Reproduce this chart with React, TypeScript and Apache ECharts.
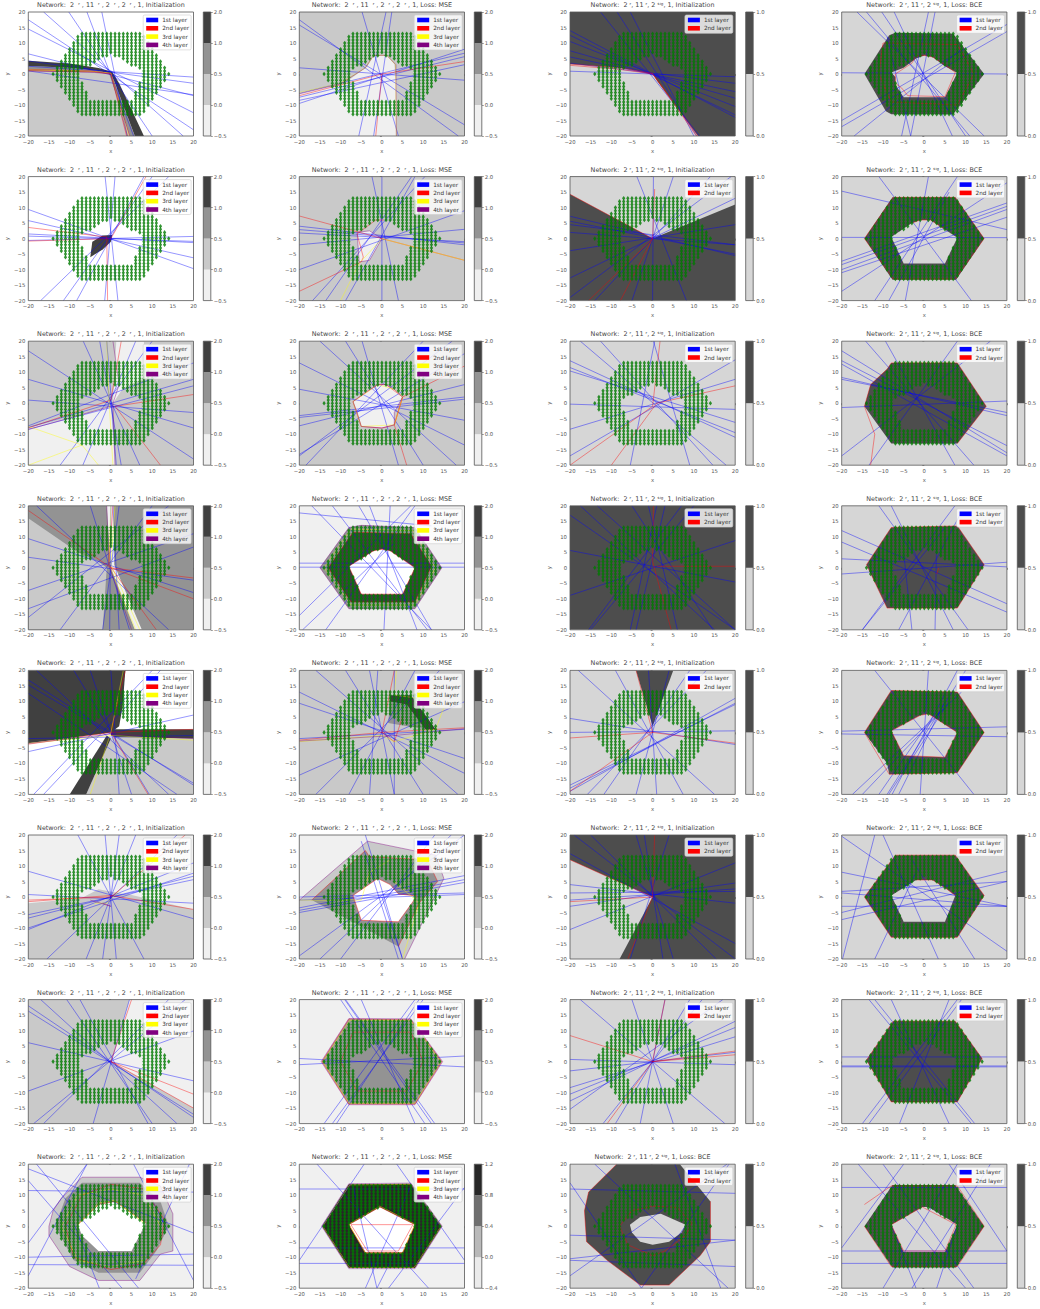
import React, { useEffect, useRef } from "react";
import * as echarts from "echarts";

type Poly = number[];
const T4I = "Network:  2  ʳ , 11  ʳ , 2  ʳ , 2  ʳ , 1, Initialization";
const T4M = "Network:  2  ʳ , 11  ʳ , 2  ʳ , 2  ʳ , 1, Loss: MSE";
const T3I = "Network:  2 ʳ, 11 ʳ, 2 ˢⁱᵍ, 1, Initialization";
const T3B = "Network:  2 ʳ, 11 ʳ, 2 ˢⁱᵍ, 1, Loss: BCE";
const titles = [
  T4I, T4M, T3I, T3B, T4I, T4M, T3I, T3B, T4I, T4M, T3I, T3B, T4I, T4M, T3I, T3B,
  T4I, T4M, T3I, T3B, T4I, T4M, T3I, T3B, T4I, T4M, T3I, T3B, T4I, T4M, T3B, T3B,
];
const xTicks = (v: number) => (v < 0 ? "\u2212" + Math.abs(v) : String(v));
const layerNames = ["1st layer", "2nd layer", "3rd layer", "4th layer"];
const layerColors = ["#0000ff", "#ff0000", "#ffff00", "#800080"];

const cbLabels4 = ["\u22120.5", "0.0", "0.5", "1.0", "2.0"];
const cbLabels2 = ["0.0", "0.5", "1.0"];
const cbLabelsLast = ["\u22120.4", "0.0", "0.4", "0.8", "1.2"];
const cbColors4 = ["#f0f0f0", "#c9c9c9", "#939393", "#404040"];
const cbColors2 = ["#d6d6d6", "#4d4d4d"];
const cbColorsLast = ["#ebebeb", "#b9b9b9", "#6f6f6f", "#272727"];

// palette index used by the regions lists
const fills = ["#ffffff", "#f0f0f0", "#c9c9c9", "#939393", "#404040", "#d6d6d6", "#4d4d4d", "#272727"];
const W = 0, F = 1, C = 2, M = 3, D = 4, L = 5, G = 6, K = 7;
const B = [-20, -20, 20, -20, 20, 20, -20, 20];

const hexFull: Poly = [-14.5, 0, -7.7, 13.3, 7.5, 13.3, 14.5, 0, 7.7, -13.3, -7.7, -13.3];
const penta: Poly = [-0.5, 6.2, 1, 6.2, 8, 0.5, 5, -8.3, -5, -8.3, -8, 0.5];

const dotRows: [number, number[]][] = [
  [13, [-7,-6,-5,-4,-3,-2,-1,0,1,2,3,4,5,6,7]],
  [12, [-8,-7,-6,-5,-4,-3,-2,-1,0,1,2,3,4,5,6,7,8]],
  [11, [-8,-7,-6,-5,-4,-3,-2,-1,0,1,2,3,4,5,6,7,8]],
  [10, [-9,-8,-7,-6,-5,-4,-3,-2,-1,0,1,2,3,4,5,6,7,8,9]],
  [9, [-9,-8,-7,-6,-5,-4,-3,-2,-1,0,1,2,3,4,5,6,7,8,9]],
  [8, [-10,-9,-8,-7,-6,-5,-4,-3,-2,-1,0,1,2,3,4,5,6,7,8,9,10]],
  [7, [-10,-9,-8,-7,-6,-5,-4,-3,-2,-1,0,1,2,3,4,5,6,7,8,9,10]],
  [6, [-11,-10,-9,-8,-7,-6,-5,-4,-3,-2,-1,1,2,3,4,5,6,7,8,9,10,11]],
  [5, [-11,-10,-9,-8,-7,-6,-5,-4,-3,3,4,5,6,7,8,9,10,11]],
  [4, [-12,-11,-10,-9,-8,-7,-6,-5,-4,4,5,6,7,8,9,10,11,12]],
  [3, [-12,-11,-10,-9,-8,-7,-6,-5,5,6,7,8,9,10,11,12]],
  [2, [-13,-12,-11,-10,-9,-8,-7,7,8,9,10,11,12,13]],
  [1, [-13,-12,-11,-10,-9,-8,8,9,10,11,12,13]],
  [0, [-14,-13,-12,-11,-10,-9,-8,8,9,10,11,12,13,14]],
  [-1, [-13,-12,-11,-10,-9,-8,8,9,10,11,12,13]],
  [-2, [-13,-12,-11,-10,-9,-8,8,9,10,11,12,13]],
  [-3, [-12,-11,-10,-9,-8,-7,7,8,9,10,11,12]],
  [-4, [-12,-11,-10,-9,-8,-7,7,8,9,10,11,12]],
  [-5, [-11,-10,-9,-8,-7,7,8,9,10,11]],
  [-6, [-11,-10,-9,-8,-7,-6,6,7,8,9,10,11]],
  [-7, [-10,-9,-8,-7,-6,6,7,8,9,10]],
  [-8, [-10,-9,-8,-7,-6,6,7,8,9,10]],
  [-9, [-9,-8,-7,-6,-5,-4,-3,-2,-1,0,1,2,3,4,5,6,7,8,9]],
  [-10, [-9,-8,-7,-6,-5,-4,-3,-2,-1,0,1,2,3,4,5,6,7,8,9]],
  [-11, [-8,-7,-6,-5,-4,-3,-2,-1,0,1,2,3,4,5,6,7,8]],
  [-12, [-8,-7,-6,-5,-4,-3,-2,-1,0,1,2,3,4,5,6,7,8]],
  [-13, [-7,-6,-5,-4,-3,-2,-1,0,1,2,3,4,5,6,7]],
];

// filled contour bands, per panel, painted in order: [palette index, flat x,y vertices]
const regions: [number, Poly][][] = [
  /* r1c1 */ [[W, B], [C, [-20,-20,-20,0.9,-5,0.6,-0.5,0.2,4.5,-20]], [M, [-20,0.9,-20,2.6,-10,2,-3,1,0,0.2,1,-3,5.8,-20,4.5,-20,-0.5,0.2,-5,0.6]], [D, [-20,2.6,-20,4.3,-10,3.4,-3,1.9,0.3,0.7,2,-3,8,-20,5.8,-20,1,-3,0,0.2,-3,1,-10,2]]],
  /* r1c2 */ [[C, B], [F, [-20,-20,-20,-6,-9,-3,-3.5,2.5,-2,6,1.2,6,3,3.2,3.5,-3,3.5,-20]]],
  /* r1c3 */ [[G, B], [L, [-20,-20,-20,3.2,-8,2,0,0.2,1,-2,11,-20]]],
  /* r1c4 */ [[L, B], [G, [-14.5,0,-8.5,12.5,-7,13.3,7,13,14.5,0,7,-13,-8,-13,-9.3,-12]], [L, [0,6,2,5.5,5,2.5,8,0.3,5,-7.5,-5,-7.5,-7,-3.5,-7,-1,-8,0.5,-5,2,-2,5]]],
  /* r2c1 */ [[W, B], [D, [-5,-6,-4.5,-1,-2,1,0.3,1.2,0,-1,-2,-3.5]]],
  /* r2c2 */ [[C, B], [F, [-6,2,-5.5,-7.5,-3,-7,0,0,-3,2.5]]],
  /* r2c3 */ [[G, B], [L, [-20,14.3,0,0,20,11,20,20,-20,20]]],
  /* r2c4 */ [[L, B], [G, hexFull], [L, [-1,6,1.5,6,8,0.3,5,-8,-5,-8,-8,0.5,-3,5]]],
  /* r3c1 */ [[C, B], [F, [1.3,20,8,20,8,8,3,5,0.5,0]], [F, [-20,-20,-20,-8,-5,-3,0,-1,1,-20]]],
  /* r3c2 */ [[C, B], [F, [-1,6,1,6,3,4.5,5,2,3,-3,3,-7,0,-8,-5,-7.5,-6,-3,-7,0.5,-4,3.5]]],
  /* r3c3 */ [[L, B]],
  /* r3c4 */ [[L, B], [G, [-14.5,-1,-13,6,-9,11,-8,13,8,13,15,-1,8,-13,-8,-13]]],
  /* r4c1 */ [[M, B], [C, [-20,-20,-20,16,-8,5,-3,2,-1,0,-2,-20]], [F, [-1,20,0.7,20,0.8,1,7.5,-20,5.8,-20,0,0]]],
  /* r4c2 */ [[F, B], [M, [-15,0,-8,13,-5,13.7,8,13,14.5,0,8,-13.2,-8,-13.2]], [D, [-13,0,-7,11.5,7,11,12,0.5,8,-11,-7.5,-11]], [W, [0,6,2,5.5,8,0,5,-8.5,-5,-8.5,-8,0.5,-2,5.5]]],
  /* r4c3 */ [[G, B]],
  /* r4c4 */ [[L, B], [G, [-14,1,-8,13,8,13.5,14.5,1,8,-13,-9,-13]]],
  /* r5c1 */ [[W, B], [C, [1,-1.5,20,-2,20,-20,-6,-20,0,-2]], [D, [-20,20,3.5,20,2.8,8,2,2,0,0,-20,-3.5]], [D, [0,1,20,1,20,-2,1,-1.5,0,-1]], [D, [-1,-1,-10,-20,-6,-20,0,-2]]],
  /* r5c2 */ [[C, B], [M, [2,10,6,9,10.5,1,1.5,3]], [D, [2,12,7,12,13,1,10.5,1,6,9,2,10]]],
  /* r5c3 */ [[L, B], [G, [-4,20,5,20,0,2]]],
  /* r5c4 */ [[L, B], [G, [-14.5,0,-8,13.5,8,13,14.5,0,8,-13,-8.5,-13.5,-9,-10]], [L, [-1,5.5,1,6,8,0,5,-8,-5,-7.5,-8,0.5]]],
  /* r6c1 */ [[F, B], [C, [-20,-2,0,0.5,4,1,20,-4,20,-20,-20,-20]], [C, [-8,-1,-3,2.5,3,1,0,0]]],
  /* r6c2 */ [[F, B], [C, [-20,-20,-20,-1,-3.5,18,13,13.5,15,6,5.5,-20]], [M, [-17,-1,-4,15,-3,13,11,12,13.5,5,9,-2,4,-16]], [W, [-7,0.5,-1,6,2,4,4,1,8.5,0.3,4,-8,-5,-7.5]]],
  /* r6c3 */ [[G, B], [L, [-20,12,0,0,-8,-20,-20,-20]]],
  /* r6c4 */ [[L, B], [G, [-14.5,0,-7,13.5,7.5,13.5,14.5,0.5,8,-13,-8,-13]], [L, [-2,5.5,2,5.5,5,3,7.5,0.5,5,-8,-5,-8,-8,0.5]]],
  /* r7c1 */ [[C, B], [F, [4.5,20,20,20,20,-15,0,0]]],
  /* r7c2 */ [[F, B], [M, [-14.5,0,-8,13.7,7,13.5,14.5,0,8,-13.7,-8,-13.7]]],
  /* r7c3 */ [[L, B]],
  /* r7c4 */ [[L, B], [G, [-14,0.5,-7.5,13,7.5,13,14,1,8,-13,-8,-13]]],
  /* r8c1 */ [[F, B], [C, [-15,0,-14,5,-12,9,-7,15.8,7,15.8,12,13,15,4,15,-8,12,-9,7,-17.5,-3,-17.5,-10,-13,-15,-3]], [M, [-13.5,0,-11,9,-7,14,7,14,12,8,14,0,11,-8,7,-15,-3,-15,-9,-11]], [W, [-8,0.5,-3,7,1,8,8.5,1,5,-8,-3,-8,-7,-3]]],
  /* r8c2 */ [[F, B], [K, [-14.5,0,-8,13.5,7,13.7,14.5,0,8,-13.5,-8,-13.5]], [W, [-0.5,6.2,8,0.5,5,-8.5,-4,-8.5,-8,0.5]]],
  /* r8c3 */ [[L, B], [G, [-16.5,5,-15.5,11,-8.7,20,6.6,20,14,8,14,-5,11.5,-9.5,4,-19,-3,-19,-11,-11,-16,-5]], [L, [-5.5,0.5,-3,3,2,4,8,0.5,7,-2,4,-5,0,-6,-3,-5,-5,-2]]],
  /* r8c4 */ [[L, B], [G, hexFull], [L, penta]],
];

const blue: Poly[][] = [
  /* r1c1 */ [[-20,17.5,20,-18],[-20,14.5,20,-12.5],[-20,6.5,20,-7],[-20,4.2,20,-3],[-20,2.5,20,-1],[-20,1,20,-6.7],[-16.3,20,17.5,-20],[-10.2,20,10,-20],[-5.8,20,5.5,-20],[-2.2,20,4,-20]],
  /* r1c2 */ [[-20,17.5,18.5,-20],[-20,15.8,20,-16.4],[-20,2,20,-2],[-20,-6.2,20,6.7],[-20,-7.5,20,5.6],[-20,-8.5,20,3],[-20,-9.5,20,8],[-4.8,20,4,-20],[1,20,-5.6,-20],[2.4,20,-2,-20]],
  /* r1c3 */ [[-20,14,20,-14],[-20,12.5,20,-13.2],[-20,10.5,20,-10.5],[-20,7.5,20,-7.8],[-20,5.5,20,-5.7],[-20,3.5,20,-3],[-20,0.9,20,-0.9],[-12.6,20,11.4,-20],[-8.6,20,10.7,-20],[-5.4,20,10,-20]],
  /* r1c4 */ [[-20,0.4,20,0],[-20,-15,20,16],[-20,-17,20,13.7],[-16.3,20,14.5,-20],[-14,20,11,-20],[-10.3,20,10,-20],[-7.3,20,6.8,-20],[1,20,-5.5,-20],[2.6,20,-3.3,-20],[-9,12,-3.3,-20],[-17,-20,9,8]],
  /* r2c1 */ [[-20,9.4,20,-9.7],[-20,5.8,20,-6.2],[-20,1.5,20,-1.3],[-20,0.8,20,-0.9],[-20,-0.6,20,0.7],[-17,-20,14,20],[-11.5,-20,10,20],[-8.3,-20,8,20],[-1.4,20,1.7,-20],[-1.5,-20,1,20]],
  /* r2c2 */ [[-20,4,20,-2],[-20,2.9,20,-1.4],[-20,1.8,20,-1],[-20,-10,20,9],[-16.8,-20,10.4,20],[-13.6,-20,7.2,20],[-8.8,-20,8,20],[0,-20,0,20],[4,-20,-2.4,20],[-20,-2,20,3]],
  /* r2c3 */ [[-20,7.2,20,-5.5],[-20,5.6,20,-5],[-20,4.5,20,-2],[-20,-3.9,20,4.5],[-20,-12.7,20,13],[-20,-19,19,20],[-3.8,20,8.2,-20],[0.2,20,0,-20],[-14,-20,14,20],[-20,2,20,-2],[-5,-20,5,20]],
  /* r2c4 */ [[-20,15.3,20,2.9],[-20,0.4,20,0.3],[-20,-7.3,20,11.5],[-20,-8.4,20,10.4],[-20,-10,20,9.4],[-20,-11,20,6.9],[-20,-17,20,18],[-11,20,11.4,-20],[-4.6,-20,1,20],[-12,-20,8,20],[-8.6,-20,6,15]],
  /* r3c1 */ [[-20,16.9,20,-18],[-20,7.7,20,-8],[-20,-7.3,20,13],[-20,-7.8,20,7.7],[-20,-8.4,20,5.6],[-6.7,20,7,-20],[-2.7,20,2.5,-20],[-12.3,-20,10,20],[-6.8,-20,6,20],[1.3,-20,-1,20],[-20,1,20,-3]],
  /* r3c2 */ [[-20,13,20,-13.5],[-20,4.5,20,-5.5],[-20,-4,20,2],[-20,-4.6,20,1.3],[-20,-7.3,20,6],[-20,-16.5,20,16],[-20,-17,17,20],[-15,20,18,-20],[-8.8,20,10,-20],[-4.8,20,4,-20],[-18.4,-20,10,20]],
  /* r3c3 */ [[-17.5,20,17.8,-20],[-12.6,20,14.6,-20],[-20,13.7,20,-11],[-20,11.5,20,-9.5],[-20,10.4,20,-6.2],[-20,-0.3,20,-2],[-20,-8.4,20,7.7],[-20,-17,20,14],[-5.4,-20,0.5,20],[0.2,20,9,-20]],
  /* r3c4 */ [[-20,16.9,20,-16],[-20,13.7,20,-13.7],[-20,12.6,20,-17],[-20,8.3,20,-4],[-20,7.7,20,-3],[-20,-1.4,20,0.7],[-14.2,20,12,-20],[-9.4,20,7.4,-20],[-20,-17,16,20],[-13.4,-20,8,20]],
  /* r4c1 */ [[-20,9.4,20,-8],[-20,3.4,20,-4],[-20,-7.3,20,11],[-20,-13.2,20,6.7],[-20,-16,14,20],[-18,20,14,-20],[-5,20,4.5,-20],[-12.3,-20,10,20],[-0.3,-20,0,20],[2,-20,0.5,20],[-2,-20,2,20]],
  /* r4c2 */ [[-20,1.5,20,1.5],[-20,0.2,20,0.2],[-20,17.7,12,13.5],[-17,20,12,-20],[-12,20,11,-20],[-5.6,20,12,-20],[-3,20,8.5,-20],[-20,-15.4,7,20],[-19.2,-20,3,8],[-13.6,-20,8,20],[0.5,-20,2,20]],
  /* r4c3 */ [[-20,17,20,-20],[-20,5.6,20,-4.6],[-20,-8.9,20,8.8],[-17.5,20,15,-20],[-13.4,20,20,-20],[-15,-20,10,20],[-5.4,-20,1,20],[-15.5,-20,7,20],[-5,20,14.6,-20],[-1,20,6,-20],[3,20,-4,-20]],
  /* r4c4 */ [[-20,12,20,-11.6],[-20,8.3,20,-14.3],[-20,2.9,20,0.3],[-20,-2,20,1.8],[-11,20,10.6,-20],[-8,20,7,-20],[7.4,20,-15,-20],[9,18,-6.2,-20],[3,10,2.6,-20],[-15,-20,5,13],[-5,5,-3,-20]],
  /* r5c1 */ [[-20,16.9,20,-17],[-20,15.3,20,-16.4],[-20,12.6,16,-20],[-20,-6.2,20,5.6],[-18,20,14,-20],[-9,20,9.3,-20],[-16.3,-20,12,20],[-18.7,-20,10,20],[-5,20,5,-20],[-20,-2,20,-1],[0,20,2,-20]],
  /* r5c2 */ [[-20,13,20,-13.2],[-20,9.4,20,-8.4],[-20,-13.8,20,9.9],[-16,-20,14,20],[-8,-20,8,20],[-16,20,18.4,-20],[-8.8,20,10,-20],[-3,20,3,-20],[-20,-2,20,1],[-1,20,-3,-20],[3,-20,3,20]],
  /* r5c3 */ [[-20,4.5,20,-3.9],[-20,-19,20,11],[-20,-18,20,9.4],[-20,-17,20,9],[-15.8,-20,13,20],[-11.8,-20,9,20],[-18,20,15,-20],[-9,20,7.4,-20],[-1,20,1,-20],[-4,-20,4,20],[-20,0,20,0.5]],
  /* r5c4 */ [[-20,0.4,20,1.8],[-20,-0.5,20,-1.4],[-17.4,-20,9,13],[-8.6,-20,6,10],[-7.8,-20,8,20],[-6.2,-20,5,10],[-12,20,12,-20],[1,20,-1,-20],[-15,-20,5,8],[-11,-20,2,5],[-9,-20,10,20]],
  /* r6c1 */ [[-20,8.3,20,-7],[-20,0.8,20,-2],[-20,-5.7,20,5.6],[-20,-6.8,20,6.7],[-20,-10,20,7.7],[-20,-10.5,20,11],[-1.4,20,1.3,-20],[2,20,-2,-20],[-15.5,-20,16,20],[-6,-20,6,20],[-8,20,8,-20]],
  /* r6c2 */ [[-20,-3.5,20,6.9],[-20,-4.3,20,5.6],[-20,-5,20,4.7],[-20,-19,20,20],[-15,-20,16.8,20],[-10,-20,12.8,20],[-4,20,5,-20],[-20,0,20,1.3],[-20,-1,20,0.8],[5,-20,0,0],[4,-20,-5,18]],
  /* r6c3 */ [[-20,4,20,-2],[-20,1.3,20,1.8],[-20,-1,20,2.6],[-20,-3,20,4.5],[-20,-10.5,20,11],[-19,20,20,-20],[-15,20,15.4,-20],[2.5,-20,-2,20],[5,-20,-4,20],[-5.4,-20,4,20],[-20,14,20,-15]],
  /* r6c4 */ [[-20,19.6,20,-17.5],[-20,8,20,-3],[-20,1.8,20,5],[-20,1.3,20,-3],[-20,-5,20,8.3],[-20,-7.3,20,5],[-19.8,-20,-12,20],[-12,-20,-2,8],[-10,20,3.4,-20],[-3,12,12.2,-20],[-20,-3,20,-3]],
  /* r7c1 */ [[-20,18,20,-18],[-20,16.3,20,-17],[-20,6.1,20,-6.2],[-20,-9.5,20,9.9],[-17,20,16,-20],[-10.7,20,10,-20],[-7.5,20,9,-20],[-16.3,-20,14,20],[-4.3,-20,4.5,20],[-18.7,-20,18,20]],
  /* r7c2 */ [[-20,1,20,-1.7],[-20,-1,20,1.8],[-8.8,20,12.8,-20],[-10,20,10.4,-20],[-9,20,12,-20],[-11,-20,9,20],[-12,-20,10,20],[-14,-20,8,20],[-5,20,8,-20]],
  /* r7c3 */ [[-20,-8.4,20,8],[-20,-10.5,20,11],[-20,-12.7,20,13],[-20,-15.4,17,20],[-17.5,20,17.5,-20],[-20,0.7,20,-1],[-5,20,5,-20],[-12,-20,12,20],[-3,-20,3,20],[9,20,-9,-20],[-20,-3,20,3]],
  /* r7c4 */ [[-20,1.5,20,1.5],[-20,-1.4,20,-1.4],[-20,-1.7,20,-1.7],[-13.4,20,11.4,-20],[-12,20,12.2,-20],[-15,-20,8,20],[-13.4,-20,9,20],[-8,20,6,-20],[-6,-20,6,20]],
  /* r8c1 */ [[-20,18.5,20,-2.2],[-20,14.7,2.7,-20],[-20,11.5,20,11],[-20,-5.4,-5.8,20],[-20,-10,20,-9],[-20,-12.4,20,-12.6],[-18,20,6.7,-20],[5.5,20,20,-17.5],[19,20,6,-17],[-2.8,-20,-9,1],[-20,-16,-5.8,20]],
  /* r8c2 */ [[-20,12,20,12],[-20,-7,20,-7],[-20,-12,20,-12],[-15.7,20,11.3,-20],[-20,-11,-4.3,20],[3.6,20,20,-11],[20,12.5,1.6,-20],[7,13,-4,-20],[-1.2,-20,3,-9],[-7,13,-1.2,-20]],
  /* r8c3 */ [[-20,12,20,10.6],[-20,14,-2.7,-20],[-20,-2.9,20,-4.5],[-20,-11,20,-13],[-20,-16,18,20],[-14,20,18.3,-20],[5.4,20,16.5,-20],[-20,-10.5,20,-4.5],[18.5,20,-2.7,-20]],
  /* r8c4 */ [[-20,12.5,20,12.5],[-20,-8,20,-8],[-20,-12,20,-12],[-16,20,10,-20],[-10,20,12,-20],[-20,-7,-5,20],[6,20,20,-8],[16,20,-3,-20],[-10,-20,8,20],[-2,-20,-8,0.5],[8,0.5,3,-20]],
];

const red: Poly[][] = [
  /* r1c1 */ [[-20,1.5,-5,1,0,0.2,4.5,-20],[-20,1.1,-4,0.7,0,0,3.8,-20]],
  /* r1c2 */ [[-20,-7,0,0,20,4],[-1.5,-20,0,0]],
  /* r1c3 */ [[-20,2.8,-8,1.5,0,0,11,-20],[-20,3.2,-8,2,0,0.2,10.6,-20]],
  /* r1c4 */ [[0,6,2,5.5,5,3,7.5,0.5,5,-7.3,-4,-7,-5.5,-4.5,-7,-3,-7,0,-3,3.5,-2,5.8,0,6],[-10,10,8,9.5,12,0,8,-10,-8,-9,-11,0,-10,10]],
  /* r2c1 */ [[-20,3.6,-1,0.5,-0.8,-20],[-20,-0.8,0,0,8.5,20]],
  /* r2c2 */ [[-20,7.3,-4,1.5,0,0,20,-7],[-20,-17,-5,-7.5,-4.5,-6,-6,1.5,-3.5,4,-1.5,6,0.5,6]],
  /* r2c3 */ [[-20,14.3,0,0,0.5,16],[-15.5,-20,0,0,-7.8,-20]],
  /* r2c4 */ [[-7.5,13.3,7.5,13.3,14.5,0,7.5,-13,-7.5,-13,-14.5,0,-7.5,13.3],[-3,5,-1,6,1.5,6,5,3]],
  /* r3c1 */ [[2.5,20,0,1,-20,-8],[12,-20,1,-1,20,2.8]],
  /* r3c2 */ [[6,-20,3,-7,5,2,20,12],[-1,6,1,6,5,2,3,-7,0,-8,-5,-7.5,-7,0.5,-1,6]],
  /* r3c3 */ [[-20,-20,0,-1,1.8,20],[-10,-20,1,0,20,5.6]],
  /* r3c4 */ [[-14.5,-1,-13,6,-9,11,-8,13,8,13,15,-1,8,-13],[-14.5,-1,-12,-10,-13,-20]],
  /* r4c1 */ [[-20,18.5,0,0,20,-3.3],[0.5,20,-0.5,1,11,-20],[0,0,20,-10]],
  /* r4c2 */ [[0,6,2,5.5,8,0,5,-8.5,-5,-8.5,-8,0.5,-2,5.5,0,6],[-13,0,-7,11.5,7,11,12,0.5,8,-11,-7.5,-11,-13,0]],
  /* r4c3 */ [[0.2,20,0,2,4.5,-20],[1,0.5,20,0.5]],
  /* r4c4 */ [[-14,1,-8,13,8,13.5,14.5,1,8,-13,-9,-13,-14,1],[3,-2,3.5,0]],
  /* r5c1 */ [[-20,-3.8,0,0,20,1],[3.5,20,0,0,9,-20]],
  /* r5c2 */ [[-20,-2.5,0,0,20,1.5],[3,20,0,0,3,-3,5,5]],
  /* r5c3 */ [[-20,-1.8,0,0,20,-3.5],[-20,-19,0,0,-4,20]],
  /* r5c4 */ [[-14.5,0,-8,13.5,8,13,14.5,0,8,-13,-8.5,-13.5,-14.5,0],[-1,5.5,1,6,8,0,5,-8,-5,-7.5,-8,0.5,-1,5.5]],
  /* r6c1 */ [[-20,-1.5,0,0.5,20,-4],[-20,-1,0,0,18,20]],
  /* r6c2 */ [[-7,0.5,-1,6,2,4,4,1,8.5,0.3,4,-8,-5,-7.5,-7,0.5],[-17,-1,-4,15,-3,13,11,12,13.5,5,9,-2,4,-16]],
  /* r6c3 */ [[-20,12,0,0,-6,-20],[-20,-1.5,0,0,0.5,20]],
  /* r6c4 */ [[-14.5,0,-7,13.5,7.5,13.5,14.5,0.5,8,-13,-8,-13,-14.5,0],[-2,5.5,2,5.5,5,3,7.5,0.5]],
  /* r7c1 */ [[5,20,0,0,20,-10.5],[0,0,20,-15]],
  /* r7c2 */ [[-10,0,-7,9.5,7,9.5,10,0,6,-9.5,-6,-9.5,-10,0],[-14.5,0,-8,13.7,7,13.5,14.5,0,8,-13.7,-8,-13.7,-14.5,0]],
  /* r7c3 */ [[-20,8.4,0,0,20,3.4],[-11,-20,0,0,3,20],[0,0,20,2.2]],
  /* r7c4 */ [[-14,0.5,-7.5,13,7.5,13,14,1,8,-13,-8,-13,-14,0.5]],
  /* r8c1 */ [[-11,0,-7,10,0,13.5,8,12,13,2,12,-6,8,-12,0,-14,-9,-10,-11,0],[-8,0.5,-3,7,1,8,8.5,1]],
  /* r8c2 */ [[-7.5,0.5,7.5,0.5,4,-8,-3.5,-8,-7.5,0.5],[-0.5,6.2,8,0.5,5,-8.5,-4,-8.5,-8,0.5,-0.5,6.2]],
  /* r8c3 */ [[-8,0,-5,5,0,6.5,6,6,9.5,1,8,-3,3,-8,0,-9.5,-6,-6,-8,0],[-16.5,5,-15.5,11,-8.7,20],[14,8,14,-5,11.5,-9.5,4,-19,-3,-19,-11,-11,-16,-5,-16.5,5]],
  /* r8c4 */ [[-0.5,6.2,7.7,0.5,5,-8,-5,-8,-8,0.5,-0.5,6.2],[-14.5,7,-8,13,8,13,14.5,0,8,-13,-8,-13,-14.5,0]],
];

const yellow: Poly[][] = [
  /* r1c1 */ [[-20,1.3,-4,0.9,0,0.3,4.2,-20]],
  /* r1c2 */ [[3.5,-20,3.3,3,1.2,6,-2,6,-4,2,-10,-3,-20,-6]],
  [], [],
  /* r2c1 */ [],
  /* r2c2 */ [[-10,-20,-5.5,-8,0,0,20,-7]],
  [], [],
  /* r3c1 */ [[-1,20,-0.5,2,0.5,-20],[-20,-20,-7,-13.5,-3,-20],[-7,-13.5,-20,-7.5]],
  /* r3c2 */ [[-1,6,3,4.5,5,2,3,-7,-5,-7.5,-7,0.5,-1,6]],
  [], [],
  /* r4c1 */ [[1,20,0,1,7,-20],[0,20,-0.5,1,6,-20]],
  /* r4c2 */ [[-14,0,-7.5,12.5,7.5,12,13,0,8,-12,-7.5,-12,-14,0]],
  [], [],
  /* r5c1 */ [[-20,-3.5,0,-1,20,-2.5],[3,20,0,0,-5,-20]],
  /* r5c2 */ [[-20,-3,0,-1,3,-3,13,1,15,8,9,11,3,12,3.5,20]],
  [], [],
  /* r6c1 */ [[-4,-2,-1,-2,2,2]],
  /* r6c2 */ [[-20,-1,-5,-1,-3,8,2,12],[5,-20,9,-2,3,5]],
  [], [],
  /* r7c1 */ [],
  /* r7c2 */ [[-14.3,0,-7.8,13.3,7,13.2,14.2,0,8,-13.4,-8,-13.4,-14.3,0]],
  [], [],
  /* r8c1 */ [[-12,0,-8,10,0,12,8,10,12,0,8,-11,0,-13,-8,-11,-12,0],[-8,0.5,-3,7.5,1,8.3,8,1]],
  /* r8c2 */ [[-14.3,0,-7.8,13.3,7,13.5,14.3,0,7.8,-13.3,-7.8,-13.3,-14.3,0],[-0.5,6.5,8,0.7,5,-8.7,-4,-8.7,-8,0.7,-0.5,6.5]],
  [], [],
];

const purple: Poly[][] = [
  /* r1c1 */ [[-20,1,-4,0.5,0,0,4,-20]],
  /* r1c2 */ [[3.5,-20,3.4,3,1.2,6,-2,6,-4,2,-10,-3.2,-20,-6.4]],
  [], [],
  /* r2c1 */ [],
  /* r2c2 */ [[-6,2,-5.5,-7.5,-3,-7,0,0,-3,2.5,-6,2]],
  [], [],
  /* r3c1 */ [[0.5,20,2,6,0.5,0,1,-20],[-20,-8.5,0,-1]],
  /* r3c2 */ [[-1,6,1,6,3,4.5,5,2,3,-3,3,-7,0,-8,-5,-7.5,-6,-3,-7,0.5,-4,3.5,-1,6]],
  [], [],
  /* r4c1 */ [[-1,20,-0.5,1,5,-20]],
  /* r4c2 */ [[-15,0,-8,13,-5,13.7,8,13,14.5,0,8,-13.2,-8,-13.2,-15,0]],
  [], [],
  /* r5c1 */ [[-20,-3.6,0,-0.5,20,-2]],
  /* r5c2 */ [[-20,-2.8,3,-1,20,1.2]],
  [], [],
  /* r6c1 */ [[-5,-1,0,-3,-2,-2]],
  /* r6c2 */ [[-20,-1,-3.5,18,13,13.5,15,6,5.5,-20]],
  [], [],
  /* r7c1 */ [],
  /* r7c2 */ [[-14.7,0,-8,13.9,7,13.8,14.7,0,8,-13.9,-8,-13.9,-14.7,0]],
  [], [],
  /* r8c1 */ [[-15,0,-14,5,-12,9,-7,15.8,7,15.8,12,13,15,4,15,-8,12,-9,7,-17.5,-3,-17.5,-10,-13,-15,-3,-15,0]],
  /* r8c2 */ [[-14.6,0,-8,13.7,7,13.9,14.6,0,8,-13.7,-8,-13.7,-14.6,0]],
  [], [],
];

const axLeft = [28.3, 299.3, 570, 841.7];
const cbLeft = [203.3, 474.3, 745.7, 1017.3];
const rowPitch = 164.6;
const axTop = 12, axW = 165.2, axH = 124, cbW = 7.5;
const tickColor = "#555";

function buildOption() {
  const dots: number[][] = [];
  dotRows.forEach(([y, xs]) => xs.forEach((x) => dots.push([x, y])));
  const toLine = (polys: Poly[]) => {
    const out: any[] = [];
    polys.forEach((p) => {
      for (let k = 0; k < p.length; k += 2) out.push([p[k], p[k + 1]]);
      out.push(["-", "-"]);
    });
    return out;
  };
  const grid: any[] = [], xAxis: any[] = [], yAxis: any[] = [], series: any[] = [];
  const title: any[] = [], legend: any[] = [], graphic: any[] = [];

  titles.forEach((text, i) => {
    const col = i % 4, row = Math.floor(i / 4);
    const four = col < 2;
    const left = axLeft[col], top = axTop + row * rowPitch;
    const isLast = i === 29;
    const labels = isLast ? cbLabelsLast : four ? cbLabels4 : cbLabels2;
    const colors = isLast ? cbColorsLast : four ? cbColors4 : cbColors2;
    const ax = i * 2, cb = i * 2 + 1;
    grid.push({ left, top, width: axW, height: axH });
    grid.push({ left: cbLeft[col], top, width: cbW, height: axH });
    const axisCommon = {
      type: "value", min: -20, max: 20, interval: 5, splitLine: { show: false },
      axisLine: { show: false },
      axisTick: { show: true, length: 2, lineStyle: { color: tickColor, width: 0.6 } },
      axisLabel: { fontSize: 5.3, color: tickColor, margin: 3, fontFamily: "DejaVu Sans", formatter: xTicks, hideOverlap: false, showMinLabel: true, showMaxLabel: true },
      nameLocation: "middle",
      nameTextStyle: { fontSize: 5.3, color: tickColor, fontFamily: "DejaVu Sans" },
    };
    xAxis.push({ ...axisCommon, gridIndex: ax, name: "x", nameGap: 12 });
    yAxis.push({ ...axisCommon, gridIndex: ax, name: "y", nameGap: 19 });
    xAxis.push({ type: "category", gridIndex: cb, data: ["bar"], show: false });
    yAxis.push({
      type: "value", gridIndex: cb, position: "right", min: 0, max: colors.length, interval: 1,
      splitLine: { show: false }, axisLine: { show: false },
      axisTick: { show: true, length: 2, lineStyle: { color: tickColor, width: 0.6 } },
      axisLabel: { fontSize: 5.3, color: tickColor, margin: 3, fontFamily: "DejaVu Sans", formatter: (v: number) => labels[v] },
    });
    colors.forEach((c) => {
      series.push({
        type: "bar", xAxisIndex: cb, yAxisIndex: cb, stack: "cb" + i, data: [1], barWidth: "100%",
        itemStyle: { color: c }, silent: true, z: 1,
      });
    });
    const panelRegions = regions[i];
    series.push({
      type: "custom", xAxisIndex: ax, yAxisIndex: ax, silent: true, z: 1, clip: true,
      data: panelRegions.map(() => [0, 0]),
      renderItem: (params: any, api: any) => {
        const [lvl, pts] = panelRegions[params.dataIndex];
        const points: number[][] = [];
        for (let k = 0; k < pts.length; k += 2) points.push(api.coord([pts[k], pts[k + 1]]));
        return { type: "polygon", shape: { points }, style: { fill: fills[lvl] } };
      },
    });
    const layers = four ? [blue[i], red[i], yellow[i], purple[i]] : [blue[i], red[i]];
    layers.forEach((polys, k) => {
      series.push({
        type: "line", name: layerNames[k], xAxisIndex: ax, yAxisIndex: ax, data: toLine(polys),
        showSymbol: false, symbol: "none", connectNulls: false, silent: true, z: 2,
        lineStyle: { color: layerColors[k], width: 0.75, opacity: 0.55 },
        itemStyle: { color: layerColors[k] },
      });
    });
    series.push({
      type: "scatter", xAxisIndex: ax, yAxisIndex: ax, data: dots, symbol: "diamond", symbolSize: [3.3, 4.6],
      itemStyle: { color: "#007a00" }, silent: true, z: 3,
    });
    title.push({
      text, left: left + axW / 2, top: top - 10, textAlign: "center", padding: 0,
      textStyle: { fontSize: 6.4, fontWeight: "normal", color: "#444", fontFamily: "DejaVu Sans" },
    });
    const names = four ? layerNames : layerNames.slice(0, 2);
    legend.push({
      left: left + axW - 50.3, top: top + 3, orient: "vertical", selectedMode: false, z: 10,
      data: names.map((name, k) => ({ name, icon: "rect", itemStyle: { color: layerColors[k], opacity: 1 } })),
      itemWidth: 12, itemHeight: 4.6, itemGap: 2.3, padding: [2, 2, 2, 3],
      backgroundColor: "rgba(255,255,255,0.8)", borderColor: "#ccc", borderWidth: 0.6, borderRadius: 1.5,
      textStyle: { fontSize: 5.7, color: "#333", fontFamily: "DejaVu Sans", padding: [0, 0, 0, -1] },
    });
    [[left, axW], [cbLeft[col], cbW]].forEach(([l, w]) => {
      graphic.push({
        type: "rect", silent: true, z: 9,
        shape: { x: l, y: top, width: w, height: axH },
        style: { fill: "none", stroke: tickColor, lineWidth: 0.8 },
      });
    });
  });
  return { animation: false, backgroundColor: "#fff", grid, xAxis, yAxis, series, title, legend, graphic };
}

export default function App() {
  const ref = useRef<HTMLDivElement>(null);
  useEffect(() => {
    document.body.style.margin = "0";
    const chart = echarts.init(ref.current!, undefined, { renderer: "svg" });
    chart.setOption(buildOption() as any);
    return () => chart.dispose();
  }, []);
  return <div ref={ref} style={{ width: 1040, height: 1309 }} />;
}
